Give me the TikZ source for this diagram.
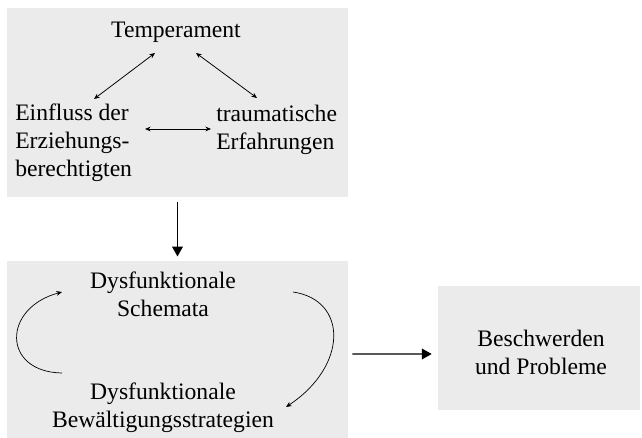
\documentclass[tikz,border=0pt]{standalone}
\usepackage{fontspec}
\setmainfont{Liberation Serif}
\usepackage{xcolor}
\usetikzlibrary{arrows.meta,calc}
\definecolor{boxgray}{RGB}{235,235,235}

\begin{document}
\begin{tikzpicture}[
  x=0.025cm,y=-0.025cm,
  area/.style={rectangle,fill=boxgray,inner sep=0pt},
  label/.style={inner sep=0pt,font=\fontsize{16.8}{19.8}\selectfont},
  rel/.style={{Stealth[length=4pt,width=3.4pt]}-{Stealth[length=4pt,width=3.4pt]},line width=0.55pt},
  flow/.style={-{Triangle[length=7pt,width=7.6pt]},line width=0.9pt},
  cyc/.style={-{Stealth[length=4pt,width=3.4pt]},line width=0.5pt}
]
  \useasboundingbox (0,0) rectangle (642,438);
  % grey areas
  \node[area,minimum width=8.525cm,minimum height=4.725cm] (upper) at (177.5,102.5) {};
  \node[area,minimum width=8.525cm,minimum height=4.425cm] (lower) at (177.5,349.5) {};
  \node[area,minimum width=5.05cm,minimum height=3.1cm] (result) at (539,348) {};
  % texts
  \node[label] (temp) at (176,32) {Temperament};
  \node[label,anchor=west,align=left] (einf) at (15,143) {Einfluss der\\Erziehungs-\\berechtigten};
  \node[label,anchor=west,align=left] (trau) at (216,130) {traumatische\\Erfahrungen};
  \node[label,align=center] (schema) at (163,294) {Dysfunktionale\\Schemata};
  \node[label,align=center] (bew) at (163,408) {Dysfunktionale\\Bewältigungsstrategien};
  \node[label,align=center] (beschw) at (541,352) {Beschwerden\\und Probleme};
  % mutual influences
  \draw[rel] ($(temp)+(-21,21)$) -- ($(einf.west)+(79,-44)$);
  \draw[rel] ($(temp)+(20,21)$) -- ($(trau.west)+(41,-32)$);
  \draw[rel] ($(einf.west)+(130,-14)$) -- ($(trau.west)+(-5,-1)$);
  % cycle
  \draw[cyc] ($(bew)+(-101,-35)$) .. controls +(-60,-1) and +(-60,16) .. ($(schema)+(-101,-2)$);
  \draw[cyc] ($(schema)+(130,-2)$) .. controls +(55,8) and +(62,-41) .. ($(bew)+(123,-1)$);
  % main flow
  \draw[flow,shorten <=3pt,shorten >=3pt] (upper) -- (lower);
  \draw[flow] ($(lower.east)+(4,4.5)$) -- ($(result.west)+(-6,6)$);
\end{tikzpicture}
\end{document}
